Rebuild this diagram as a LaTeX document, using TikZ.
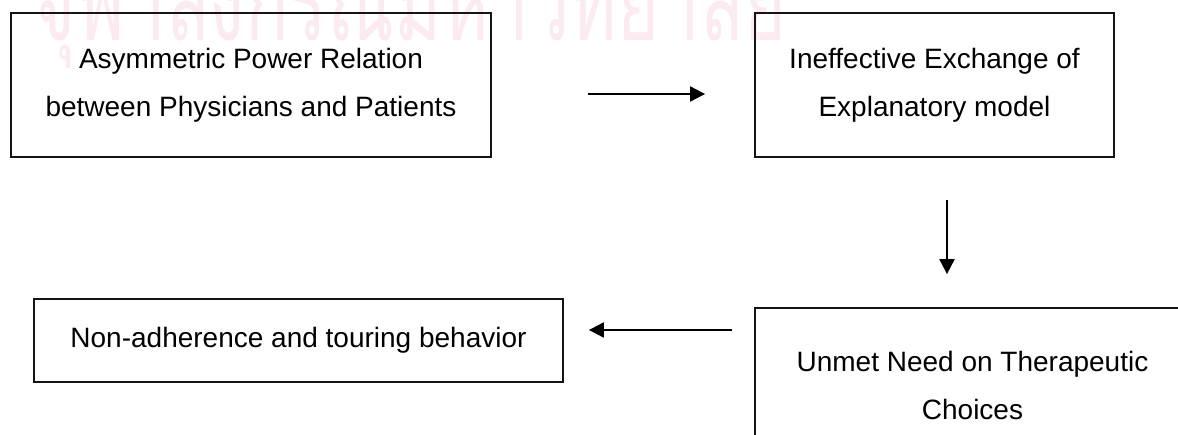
\documentclass[tikz,border=0pt]{standalone}
\usepackage{fontspec}
\setmainfont{Liberation Sans}
\newfontfamily\thaifont[Script=Thai]{Loma}
\usepackage{xcolor}
\usepackage{tikz}
\usetikzlibrary{arrows.meta, positioning, calc}
\definecolor{wmpink}{RGB}{252, 234, 241}
\definecolor{boxline}{RGB}{20, 20, 20}

\begin{document}
\begin{tikzpicture}[
  x=0.5pt, y=-0.5pt,
  stage/.style={rectangle, draw=boxline, line width=0.9pt, inner sep=0pt,
                align=center, font=\fontsize{14pt}{24pt}\selectfont},
  arrow/.style={-{Triangle[length=7.5pt, width=7.5pt]}, line width=1pt, color=black},
]
  \clip (0,0) rectangle (1178,434);

  % watermark
  \node[anchor=base, text=wmpink, yscale=1.5, transform shape,
        font=\thaifont\fontsize{36pt}{40pt}\selectfont] (wm) at (410,40) {จุฬาลงกรณ์มหาวิทยาลัย};

  % top row
  \node[stage, minimum width=240pt, minimum height=72pt] (asym) at (251,85)
    {Asymmetric Power Relation\\between Physicians and Patients};
  \node[stage, minimum width=179.5pt, minimum height=72pt] (ineff) at (934.5,85)
    {Ineffective Exchange of\\Explanatory model};

  % bottom row
  \node[stage, minimum width=217.5pt, minimum height=77pt] (unmet) at (972.5,385)
    {Unmet Need on Therapeutic\\Choices};
  \node[stage, minimum width=264.5pt, minimum height=41.5pt] (nonadh) at (298.5,340.5)
    {Non-adherence and touring behavior};

  \draw[arrow, shorten <=48pt, shorten >=24.5pt] ([yshift=-4.5pt]asym.east) -- ([yshift=-4.5pt]ineff.west);
  \draw[arrow, shorten <=21pt, shorten >=16.5pt] ([xshift=6.25pt]ineff.south) -- ([xshift=6.25pt]ineff.south |- unmet.north);
  \draw[arrow, shorten <=11pt, shorten >=12.5pt] ([yshift=5.25pt]nonadh.east -| unmet.west) -- ([yshift=5.25pt]nonadh.east);
\end{tikzpicture}
\end{document}
